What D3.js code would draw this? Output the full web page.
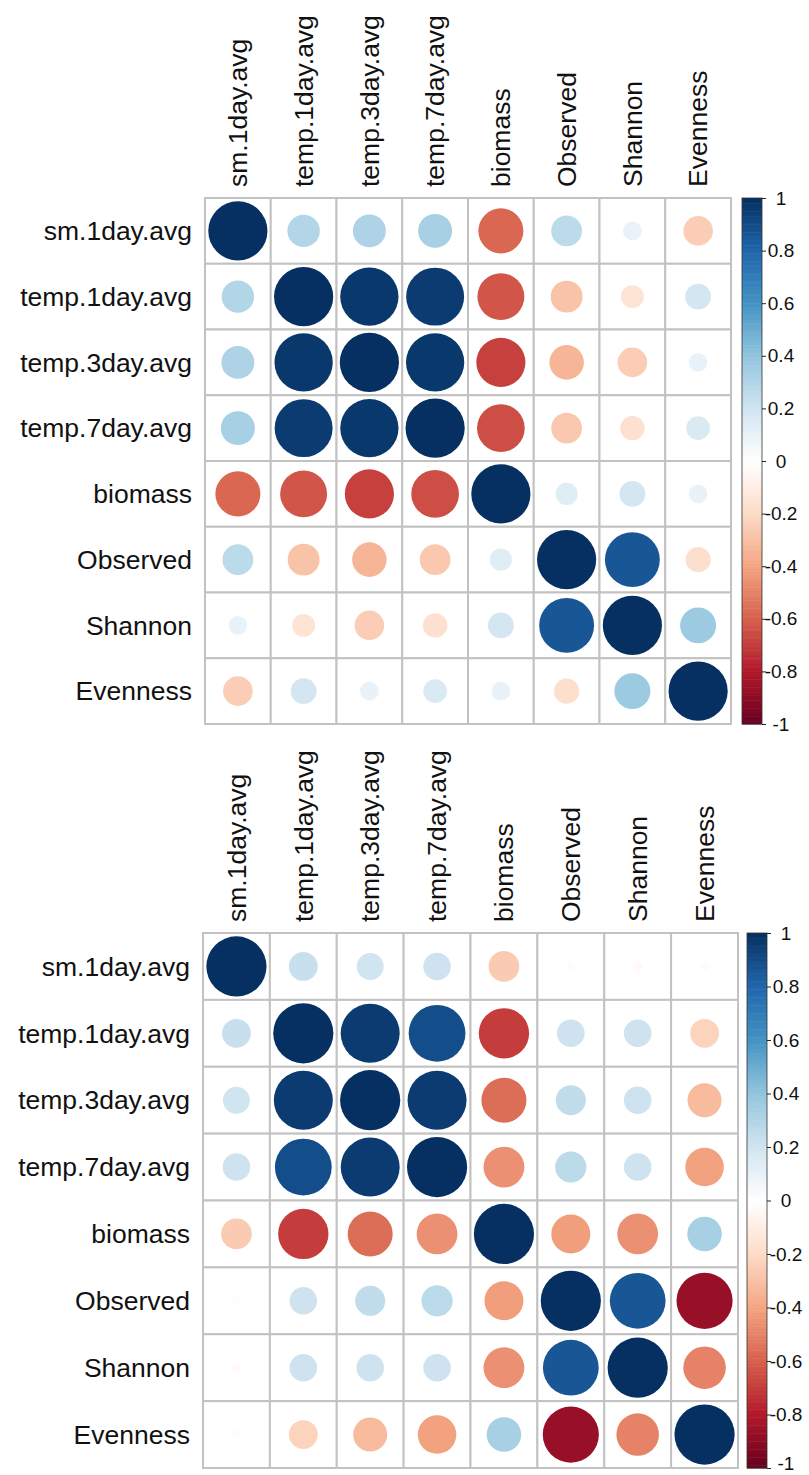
<!DOCTYPE html>
<html>
<head>
  <meta charset="utf-8">
  <title>Correlation plots</title>
  <script src="https://d3js.org/d3.v7.min.js"></script>
  <style>
    body { margin: 0; background: #fff; }
    text { font-family: "Liberation Sans", Arial, Helvetica, sans-serif; fill: #111; }
    .bar .tick line { stroke: #222; }
    .bar .domain { display: none; }
  </style>
</head>
<body>
<div id="output"></div>

<script type="text/javascript">

  var labels = ["sm.1day.avg", "temp.1day.avg", "temp.3day.avg", "temp.7day.avg",
                "biomass", "Observed", "Shannon", "Evenness"];

  // upper plot
  var corrTop = [
    [ 1.00,  0.30,  0.31,  0.33, -0.58,  0.27,  0.10, -0.25],
    [ 0.30,  1.00,  0.97,  0.96, -0.63, -0.29, -0.15,  0.19],
    [ 0.31,  0.97,  1.00,  0.97, -0.69, -0.34, -0.25,  0.10],
    [ 0.33,  0.96,  0.97,  1.00, -0.65, -0.27, -0.17,  0.16],
    [-0.58, -0.63, -0.69, -0.65,  1.00,  0.14,  0.19,  0.10],
    [ 0.27, -0.29, -0.34, -0.27,  0.14,  1.00,  0.86, -0.18],
    [ 0.10, -0.15, -0.25, -0.17,  0.19,  0.86,  1.00,  0.37],
    [-0.25,  0.19,  0.10,  0.16,  0.10, -0.18,  0.37,  1.00]
  ];

  // lower plot
  var corrBottom = [
    [ 1.00,  0.23,  0.20,  0.21, -0.26, -0.02, -0.03, -0.02],
    [ 0.23,  1.00,  0.96,  0.89, -0.70,  0.21,  0.21, -0.23],
    [ 0.20,  0.96,  1.00,  0.96, -0.56,  0.25,  0.21, -0.32],
    [ 0.21,  0.89,  0.96,  1.00, -0.46,  0.27,  0.21, -0.41],
    [-0.26, -0.70, -0.56, -0.46,  1.00, -0.42, -0.46,  0.33],
    [-0.02,  0.21,  0.25,  0.27, -0.42,  1.00,  0.86, -0.87],
    [-0.03,  0.21,  0.21,  0.21, -0.46,  0.86,  1.00, -0.50],
    [-0.02, -0.23, -0.32, -0.41,  0.33, -0.87, -0.50,  1.00]
  ];

  var barTicks = [-1, -0.8, -0.6, -0.4, -0.2, 0, 0.2, 0.4, 0.6, 0.8, 1];
  var barTickLabels = ["-1", "-0.8", "-0.6", "-0.4", "-0.2", "0", "0.2", "0.4", "0.6", "0.8", "1"];

  var rdbu = ["#67001F", "#B2182B", "#D6604D", "#F4A582", "#FDDBC7", "#FFFFFF",
              "#D1E5F0", "#92C5DE", "#4393C3", "#2166AC", "#053061"];

  var color = d3.scaleLinear()
          .domain(d3.range(11).map(function(i){ return -1 + i * 0.2; }))
          .range(rdbu);

  var svg = d3.select("#output").append("svg")
          .attr("width", 809)
          .attr("height", 1475);

  function drawCorr(mat, left, top, size, barX) {
    var x = d3.scaleBand().domain(labels).range([left, left + size]);
    var y = d3.scaleBand().domain(labels).range([top, top + size]);
    var cell = x.bandwidth();
    var r = d3.scaleSqrt().domain([0, 1]).range([0, 0.45 * cell]);

    var g = svg.append("g");

    var cells = [];
    mat.forEach(function(row, i){
      row.forEach(function(v, j){ cells.push({row: labels[i], col: labels[j], v: v}); });
    });

    g.selectAll(".grid")
            .data(cells)
            .enter()
            .append("rect")
            .attr("x", function(d){ return x(d.col); })
            .attr("y", function(d){ return y(d.row); })
            .attr("width", cell)
            .attr("height", cell)
            .attr("fill", "white")
            .attr("stroke", "#c2c2c2")
            .attr("stroke-width", 2);

    g.selectAll(".dot")
            .data(cells)
            .enter()
            .append("circle")
            .attr("cx", function(d){ return x(d.col) + cell / 2; })
            .attr("cy", function(d){ return y(d.row) + cell / 2; })
            .attr("r", function(d){ return r(Math.abs(d.v)); })
            .attr("fill", function(d){ return color(d.v); });

    // row labels
    g.selectAll(".rowlab")
            .data(labels)
            .enter()
            .append("text")
            .attr("x", left - 13)
            .attr("y", function(d){ return y(d) + cell / 2; })
            .attr("dy", "0.35em")
            .attr("text-anchor", "end")
            .style("font-size", "26.5px")
            .text(function(d){ return d; });

    // column labels
    g.selectAll(".collab")
            .data(labels)
            .enter()
            .append("text")
            .attr("transform", function(d){
              return "translate(" + (x(d) + cell / 2) + "," + (top - 11) + ") rotate(-90)";
            })
            .attr("dy", "0.35em")
            .attr("text-anchor", "start")
            .style("font-size", "26.5px")
            .text(function(d){ return d; });

    // colour bar
    var barW = 20;
    var yBar = d3.scaleLinear().domain([-1, 1]).range([top + size, top]);
    var steps = d3.range(200).map(function(i){ return -1 + i * 0.01; });

    g.selectAll(".step")
            .data(steps)
            .enter()
            .append("rect")
            .attr("x", barX)
            .attr("y", function(d){ return yBar(d + 0.01); })
            .attr("width", barW)
            .attr("height", function(d){ return yBar(d) - yBar(d + 0.01) + 0.5; })
            .attr("fill", function(d){ return color(d + 0.005); });

    g.append("rect")
            .attr("x", barX)
            .attr("y", top)
            .attr("width", barW)
            .attr("height", size)
            .attr("fill", "none")
            .attr("stroke", "#333")
            .attr("stroke-width", 0.8);

    var barAxis = d3.axisRight(yBar)
            .tickValues(barTicks)
            .tickSize(4)
            .tickFormat(function(d, i){ return barTickLabels[i]; });

    var ax = g.append("g")
            .attr("class", "bar")
            .attr("transform", "translate(" + (barX + barW) + ",0)")
            .call(barAxis);

    ax.selectAll("text")
            .attr("x", 19)
            .attr("text-anchor", "middle")
            .style("font-size", "19px")
            .style("font-family", "'Liberation Sans', Arial, sans-serif")
            .attr("fill", "#111");

    // keep the lowest label inside the page
    ax.selectAll("text")
            .filter(function(d){ return d === -1; })
            .attr("dy", function(){
              return (top + size + 7 > 1472) ? "0.1em" : "0.32em";
            });
  }

  drawCorr(corrTop, 205, 198, 526, 742);
  drawCorr(corrBottom, 203, 933, 535, 747);

</script>
</body>
</html>
